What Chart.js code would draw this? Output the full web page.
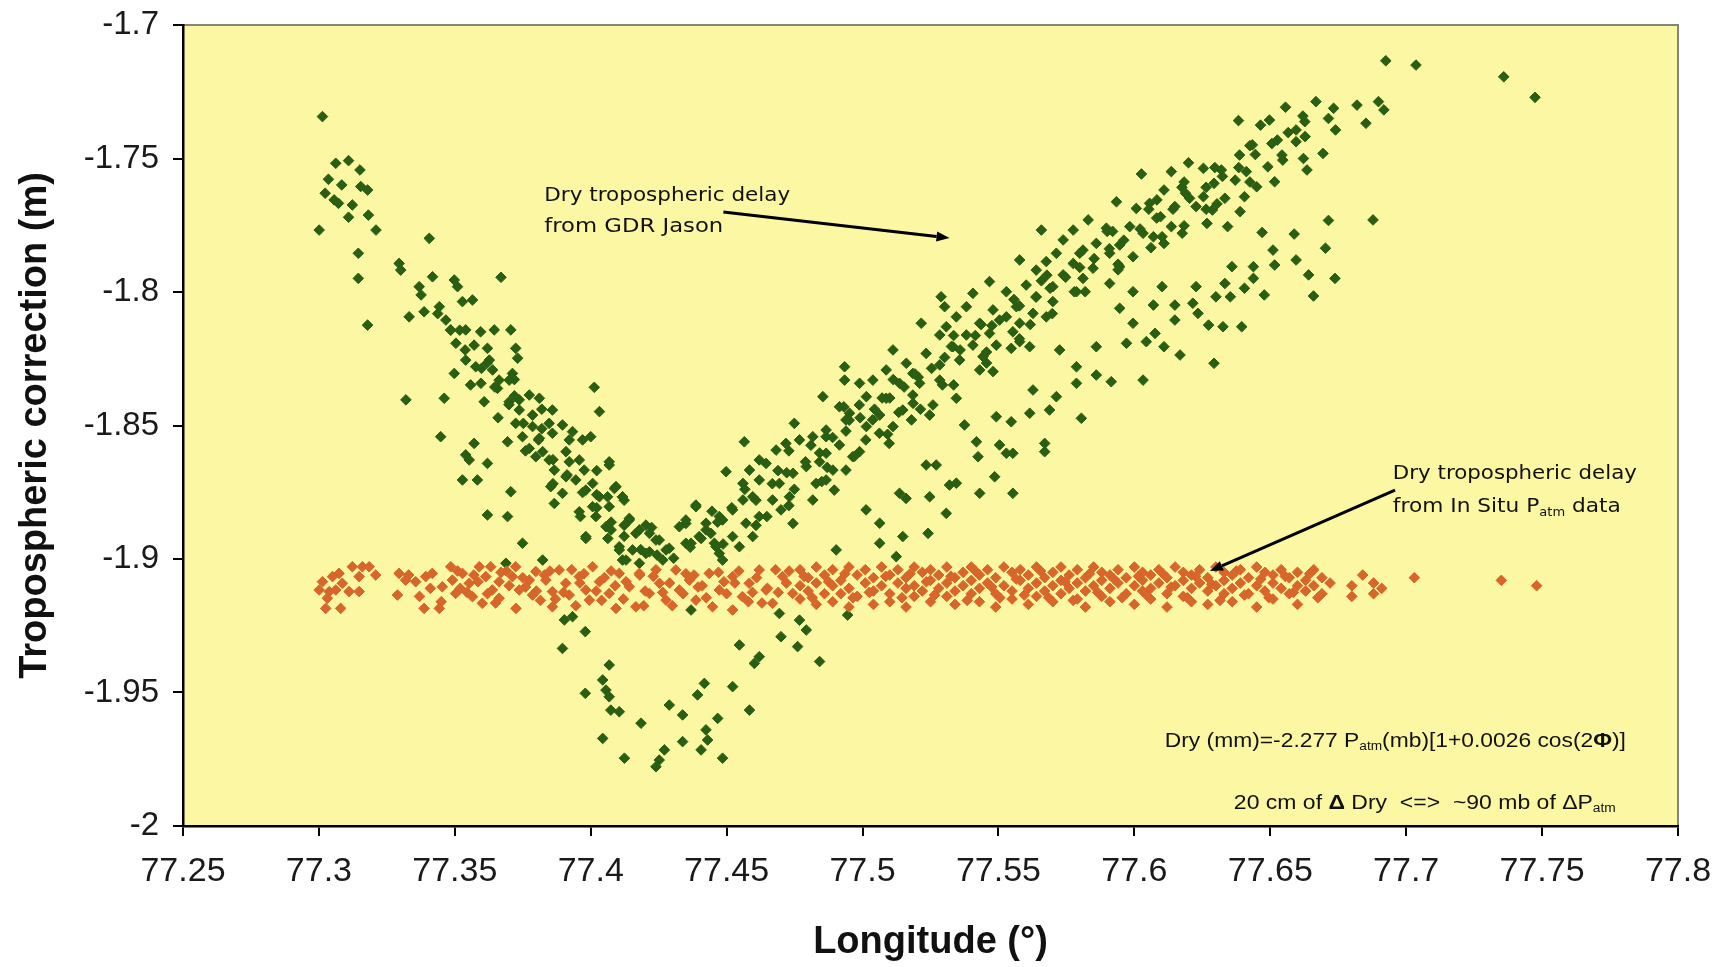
<!DOCTYPE html>
<html>
<head>
<meta charset="utf-8">
<script src="https://cdn.jsdelivr.net/npm/chart.js@4/dist/chart.umd.min.js"></script>
<style>
  html, body { margin: 0; padding: 0; background: #fff; }
  #wrap { width: 1720px; height: 967px; }
</style>
</head>
<body>
<div id="wrap"><canvas id="tropoChart" width="1720" height="967"></canvas></div>
<script>
// axis ticks
var lonTicks = [77.25, 77.3, 77.35, 77.4, 77.45, 77.5, 77.55, 77.6, 77.65, 77.7, 77.75, 77.8];
var dryTicks = [-2, -1.95, -1.9, -1.85, -1.8, -1.75, -1.7];

// dry tropospheric delay from GDR Jason  [longitude, correction (m)]
var jasonPts = [
  [77.3013,-1.7343],[77.3062,-1.7518],[77.3109,-1.7508],[77.3151,-1.7543],[77.3035,-1.7578],[77.3084,-1.7599],[77.3154,-1.7605],[77.3179,-1.7618],
  [77.3023,-1.7630],[77.3056,-1.7655],[77.3072,-1.7668],[77.3123,-1.7674],[77.3109,-1.7720],[77.3182,-1.7712],[77.3001,-1.7768],[77.3210,-1.7768],
  [77.3406,-1.7799],[77.3145,-1.7855],[77.3295,-1.7893],[77.3301,-1.7918],[77.3145,-1.7949],[77.3670,-1.7945],[77.3369,-1.7980],[77.3418,-1.7943],
  [77.3498,-1.7955],[77.3510,-1.7980],[77.3332,-1.8093],[77.3387,-1.8074],[77.3443,-1.8055],[77.3528,-1.8036],[77.3565,-1.8030],[77.3179,-1.8124],
  [77.3467,-1.8105],[77.3485,-1.8142],[77.3540,-1.8142],[77.3595,-1.8149],[77.3645,-1.8142],[77.3706,-1.8142],[77.3504,-1.8192],[77.3571,-1.8199],
  [77.3620,-1.8211],[77.3724,-1.8211],[77.3540,-1.8255],[77.3627,-1.8255],[77.3731,-1.8248],[77.3577,-1.8280],[77.3639,-1.8292],[77.3712,-1.8305],
  [77.3498,-1.8305],[77.3663,-1.8330],[77.3596,-1.8342],[77.3700,-1.8330],[77.3657,-1.8361],[77.4013,-1.8357],[77.3320,-1.8404],[77.3461,-1.8398],
  [77.3608,-1.8411],[77.3700,-1.8411],[77.3737,-1.8404],[77.3774,-1.8386],[77.3811,-1.8398],[77.3737,-1.8442],[77.3786,-1.8461],[77.3859,-1.8442],
  [77.4032,-1.8448],[77.3724,-1.8492],[77.3786,-1.8504],[77.3847,-1.8492],[77.3896,-1.8498],[77.3749,-1.8542],[77.3811,-1.8548],[77.3859,-1.8529],
  [77.3933,-1.8523],[77.3970,-1.8554],[77.4000,-1.8542],[77.3448,-1.8542],[77.3571,-1.8567],[77.3694,-1.8561],[77.3774,-1.8586],[77.3823,-1.8598],
  [77.3909,-1.8598],[77.3540,-1.8610],[77.3798,-1.8617],[77.3847,-1.8629],[77.3553,-1.8629],[77.3620,-1.8642],[77.3958,-1.8629],[77.4068,-1.8648],
  [77.3866,-1.8667],[77.3976,-1.8667],[77.3909,-1.8692],[77.3528,-1.8704],[77.3583,-1.8704],[77.3945,-1.8704],[77.4007,-1.8717],[77.3853,-1.8729],
  [77.3896,-1.8754],[77.3982,-1.8742],[77.4087,-1.8736],[77.3706,-1.8748],[77.4032,-1.8767],[77.4117,-1.8767],[77.3866,-1.8792],[77.3958,-1.8823],
  [77.4007,-1.8804],[77.4068,-1.8804],[77.3620,-1.8835],[77.3694,-1.8841],[77.4019,-1.8841],[77.4142,-1.8854],[77.4203,-1.8873],[77.4387,-1.8798],
  [77.4075,-1.8891],[77.3982,-1.8923],[77.4166,-1.8904],[77.4252,-1.8929],[77.4350,-1.8867],[77.4424,-1.8891],[77.3749,-1.8941],[77.4105,-1.8954],
  [77.4154,-1.8966],[77.4216,-1.8973],[77.4289,-1.8960],[77.4369,-1.8941],[77.4455,-1.8941],[77.4117,-1.9004],[77.4179,-1.9016],[77.4265,-1.9004],
  [77.3823,-1.9004],[77.3688,-1.9016],
  [77.3376,-1.8011],[77.3437,-1.8081],[77.3485,-1.8143],[77.3538,-1.8217],[77.3598,-1.8286],[77.3647,-1.8356],[77.3699,-1.8422],[77.3752,-1.8492],
  [77.3808,-1.8554],[77.3861,-1.8628],[77.3913,-1.8685],[77.3970,-1.8751],[77.4022,-1.8808],[77.4075,-1.8862],[77.4123,-1.8915],[77.4184,-1.8965],
  [77.4244,-1.8985],[77.4305,-1.8997],[77.4366,-1.8956],
  [77.3518,-1.8143],[77.3619,-1.8266],[77.3719,-1.8389],[77.3820,-1.8512],[77.3921,-1.8636],[77.4022,-1.8759],[77.4123,-1.8874],
  [77.3719,-1.8328],[77.3820,-1.8439],[77.3921,-1.8554],[77.4022,-1.8669],[77.4123,-1.8780],[77.4224,-1.8882],
  [77.3558,-1.8348],[77.3659,-1.8471],[77.3760,-1.8595],[77.3861,-1.8718],[77.3962,-1.8841],[77.4063,-1.8923],
  [77.3903,-1.9228],[77.3933,-1.9216],[77.3980,-1.9272],[77.3896,-1.9335],[77.4068,-1.9397],[77.4044,-1.9453],[77.3980,-1.9503],[77.4056,-1.9491],
  [77.4068,-1.9516],[77.4074,-1.9566],[77.4105,-1.9572],[77.4185,-1.9615],[77.4044,-1.9672],[77.4124,-1.9746],[77.4240,-1.9778],[77.4252,-1.9753],
  [77.4271,-1.9715],[77.4289,-1.9547],[77.4338,-1.9584],[77.4338,-1.9684],[77.4393,-1.9509],[77.4418,-1.9466],[77.4424,-1.9640],[77.4430,-1.9678],
  [77.4406,-1.9715],[77.4467,-1.9597],[77.4485,-1.9746],[77.4522,-1.9478],[77.4584,-1.9566],[77.4547,-1.9322],[77.4602,-1.9391],[77.4620,-1.9366],
  [77.4700,-1.9291],[77.4694,-1.9204],[77.4761,-1.9328],[77.4768,-1.9229],[77.4793,-1.9266],[77.4842,-1.9384],[77.4945,-1.9210],[77.4369,-1.9191],
  [77.4565,-1.8561],[77.4749,-1.8492],[77.4498,-1.8673],[77.4584,-1.8667],[77.4560,-1.8717],[77.4620,-1.8704],[77.4645,-1.8642],[77.4682,-1.8592],
  [77.4718,-1.8567],[77.4768,-1.8554],[77.4817,-1.8542],[77.4866,-1.8517],[77.4915,-1.8430],[77.4952,-1.8454],[77.4988,-1.8423],[77.5037,-1.8479],
  [77.5062,-1.8529],[77.5098,-1.8567],[77.5180,-1.8479],[77.4964,-1.8617],[77.4939,-1.8667],[77.4866,-1.8604],[77.4842,-1.8636],[77.4793,-1.8654],
  [77.4744,-1.8679],[77.4866,-1.8704],[77.4896,-1.8742],[77.4817,-1.8779],[77.4694,-1.8717],[77.4669,-1.8779],[77.4731,-1.8767],[77.4700,-1.8816],
  [77.4744,-1.8867],[77.4560,-1.8779],[77.4596,-1.8767],[77.4620,-1.8841],[77.4596,-1.8916],[77.4522,-1.8816],[77.4485,-1.8854],[77.4522,-1.8916],
  [77.4461,-1.8954],[77.4485,-1.9004],[77.4387,-1.8804],[77.4350,-1.8854],[77.4326,-1.8879],[77.4424,-1.8866],[77.4399,-1.8916],[77.4442,-1.8904],
  [77.4350,-1.8941],[77.4277,-1.8966],[77.4240,-1.8929],[77.4216,-1.8904],[77.4179,-1.8891],[77.4105,-1.8966],[77.4130,-1.9004],[77.4203,-1.8979],
  [77.4068,-1.8636],[77.3982,-1.8916],[77.4093,-1.8729],[77.4117,-1.8767],[77.4062,-1.8767],[77.4142,-1.8848],[77.4056,-1.8879],[77.5234,-1.8648],
  [77.5247,-1.8767],[77.5136,-1.8754],[77.5160,-1.8773],[77.5013,-1.8816],[77.5063,-1.8866],[77.5148,-1.8916],[77.5241,-1.8904],[77.5063,-1.8941],
  [77.4903,-1.8966],[77.5124,-1.8991],[77.5186,-1.8417],
  [77.6026,-1.7558],[77.6056,-1.7668],[77.6007,-1.7687],[77.5934,-1.7662],[77.5830,-1.7730],[77.5897,-1.7761],[77.5983,-1.7755],[77.6032,-1.7780],
  [77.5775,-1.7768],[77.5658,-1.7768],[77.5738,-1.7805],[77.5860,-1.7818],[77.5946,-1.7824],[77.5811,-1.7843],[77.5713,-1.7855],[77.5909,-1.7855],
  [77.5995,-1.7868],[77.5578,-1.7880],[77.5676,-1.7886],[77.5775,-1.7893],[77.5848,-1.7911],[77.5946,-1.7905],[77.5639,-1.7918],[77.5738,-1.7936],
  [77.5811,-1.7949],[77.5909,-1.7968],[77.5700,-1.7980],[77.5602,-1.7974],[77.5467,-1.7961],[77.5787,-1.7999],[77.5639,-1.8018],[77.5529,-1.7999],
  [77.5406,-1.8005],[77.5289,-1.8018],[77.5700,-1.8036],[77.5566,-1.8055],[77.5627,-1.8080],[77.5480,-1.8067],[77.5382,-1.8055],[77.5302,-1.8055],
  [77.5676,-1.8093],[77.5578,-1.8117],[77.5504,-1.8105],[77.5431,-1.8117],[77.5345,-1.8093],[77.5216,-1.8117],[77.5553,-1.8149],[77.5467,-1.8155],
  [77.5382,-1.8161],[77.5308,-1.8130],[77.5284,-1.8161],[77.5578,-1.8186],[77.5492,-1.8199],[77.5406,-1.8199],[77.5333,-1.8205],[77.5112,-1.8217],
  [77.5234,-1.8230],[77.5443,-1.8242],[77.5547,-1.8211],[77.5615,-1.8205],[77.5357,-1.8255],[77.5161,-1.8267],[77.5284,-1.8273],[77.5087,-1.8292],
  [77.5185,-1.8305],[77.5431,-1.8292],[77.5480,-1.8298],[77.5284,-1.8330],[77.5210,-1.8342],[77.5136,-1.8342],[77.5038,-1.8330],[77.4989,-1.8342],
  [77.4934,-1.8280],[77.4934,-1.8330],[77.5345,-1.8398],[77.5259,-1.8423],[77.5185,-1.8386],[77.5087,-1.8398],[77.5014,-1.8392],[77.4854,-1.8392],
  [77.5063,-1.8461],[77.5148,-1.8442],[77.5247,-1.8461],[77.4939,-1.8479],[77.5014,-1.8504],[77.5112,-1.8504],[77.4866,-1.8542],[77.4915,-1.8573],
  [77.4989,-1.8598],[77.4620,-1.8629],[77.4891,-1.8667],[77.4829,-1.8717],[77.4473,-1.8841],[77.4571,-1.8866],[77.4547,-1.8954],[77.4473,-1.8979],
  [77.4406,-1.8923],[77.4467,-1.8862],[77.4519,-1.8808],[77.4608,-1.8780],[77.4668,-1.8718],[77.4721,-1.8677],[77.4790,-1.8636],[77.4842,-1.8603],
  [77.4890,-1.8545],[77.4939,-1.8521],[77.4991,-1.8471],[77.5044,-1.8439],[77.5100,-1.8397],[77.5153,-1.8356],[77.5205,-1.8319],[77.5254,-1.8286],
  [77.5302,-1.8245],[77.5359,-1.8217],[77.5415,-1.8163],[77.5476,-1.8126],[77.5529,-1.8093],[77.5577,-1.8052],[77.5638,-1.8019],[77.5690,-1.7986],
  [77.5747,-1.7945],[77.5799,-1.7908],[77.5852,-1.7875],[77.5908,-1.7838],[77.5961,-1.7806],[77.6021,-1.7764],[77.6082,-1.7723],[77.6142,-1.7690],
  [77.6203,-1.7649],[77.6264,-1.7608],[77.6324,-1.7567],[77.6384,-1.7534],[77.6445,-1.7485],[77.6506,-1.7444],[77.6566,-1.7403],[77.6627,-1.7362],
  [77.4648,-1.8841],[77.4749,-1.8739],[77.4870,-1.8657],[77.5012,-1.8554],[77.5133,-1.8451],[77.5294,-1.8348],[77.5456,-1.8225],[77.5617,-1.8122],
  [77.5779,-1.7999],[77.5940,-1.7896],[77.6102,-1.7793],[77.6264,-1.7690],[77.4729,-1.8595],[77.4931,-1.8430],[77.5113,-1.8328],[77.5335,-1.8163],
  [77.5658,-1.7958],[77.5900,-1.7773],[77.6183,-1.7588],
  [77.4446,-1.8821],[77.4567,-1.8739],[77.4689,-1.8669],[77.4810,-1.8574],[77.4951,-1.8480],[77.5072,-1.8397],[77.5193,-1.8307],[77.5327,-1.8204],
  [77.5436,-1.8122],[77.5557,-1.8028],[77.5678,-1.7937],[77.5799,-1.7855],[77.5920,-1.7773],[77.6053,-1.7690],[77.6175,-1.7608],[77.6296,-1.7534],
  [77.6425,-1.7452],
  [77.4487,-1.8944],[77.4608,-1.8874],[77.4729,-1.8800],[77.4850,-1.8710],[77.4971,-1.8615],[77.5092,-1.8533],[77.5213,-1.8439],[77.5335,-1.8348],
  [77.5456,-1.8266],[77.5577,-1.8175],[77.5698,-1.8081],[77.5819,-1.7999],[77.5940,-1.7917],[77.6061,-1.7834],[77.6183,-1.7752],[77.6304,-1.7670],
  [77.6425,-1.7588],[77.6546,-1.7506],
  [77.5271,-1.8648],[77.5320,-1.8723],[77.5345,-1.8716],[77.5308,-1.8829],[77.5431,-1.8754],[77.5553,-1.8754],[77.5486,-1.8692],[77.5425,-1.8617],
  [77.5419,-1.8561],[77.5504,-1.8573],[77.5529,-1.8604],[77.5553,-1.8604],[77.5375,-1.8498],[77.5492,-1.8467],[77.5547,-1.8486],[77.5615,-1.8454],
  [77.5670,-1.8567],[77.5670,-1.8598],[77.5688,-1.8442],[77.5713,-1.8392],[77.5627,-1.8367],[77.5805,-1.8473],[77.5787,-1.8280],[77.5787,-1.8342],
  [77.5725,-1.8217],[77.5860,-1.8311],[77.5915,-1.8336],[77.5860,-1.8205],[77.5971,-1.8192],[77.6032,-1.8330],[77.6044,-1.8186],[77.5995,-1.8117],
  [77.5946,-1.8061],[77.5995,-1.7999],
  [77.6925,-1.7134],[77.7036,-1.7150],[77.7359,-1.7194],[77.7474,-1.7271],[77.6898,-1.7287],[77.6918,-1.7318],[77.6819,-1.7300],[77.6852,-1.7368],
  [77.6668,-1.7287],[77.6733,-1.7312],[77.6714,-1.7350],[77.6740,-1.7393],[77.6556,-1.7308],[77.6620,-1.7341],[77.6497,-1.7356],[77.6464,-1.7375],
  [77.6383,-1.7358],[77.6595,-1.7393],[77.6628,-1.7418],[77.6526,-1.7431],[77.6434,-1.7449],[77.6387,-1.7487],[77.6543,-1.7487],[77.6595,-1.7437],
  [77.6694,-1.7481],[77.6622,-1.7500],[77.6199,-1.7516],[77.6254,-1.7537],[77.6136,-1.7549],[77.6320,-1.7543],[77.6412,-1.7549],[77.6491,-1.7531],
  [77.6635,-1.7543],[77.6293,-1.7593],[77.6371,-1.7581],[77.6450,-1.7606],[77.6516,-1.7587],[77.6109,-1.7618],[77.6188,-1.7630],[77.6254,-1.7643],
  [77.6333,-1.7649],[77.6405,-1.7643],[77.6083,-1.7655],[77.6149,-1.7680],[77.6227,-1.7680],[77.6287,-1.7693],[77.6389,-1.7699],[77.6096,-1.7718],
  [77.6136,-1.7755],[77.6176,-1.7780],[77.6070,-1.7793],[77.6109,-1.7818],[77.6267,-1.7743],[77.6343,-1.7755],[77.6714,-1.7732],[77.6878,-1.7730],
  [77.6470,-1.7777],[77.6588,-1.7783],[77.6703,-1.7836],[77.6510,-1.7843],[77.6595,-1.7880],[77.6359,-1.7905],[77.6438,-1.7905],[77.6516,-1.7899],
  [77.6641,-1.7936],[77.6738,-1.7949],[77.6438,-1.7949],[77.6333,-1.7968],[77.6405,-1.7986],[77.6478,-1.8011],[77.6227,-1.7980],[77.6102,-1.7980],
  [77.6300,-1.8018],[77.6353,-1.8018],[77.6659,-1.8015],[77.6070,-1.8049],[77.6149,-1.8049],[77.6215,-1.8042],[77.6234,-1.8080],[77.6149,-1.8105],
  [77.6273,-1.8124],[77.6326,-1.8130],[77.6395,-1.8130],[77.6076,-1.8155],[77.6109,-1.8205],[77.6168,-1.8236],[77.6293,-1.8267]
];

// dry tropospheric delay from in situ Patm data  [longitude, correction (m)]
var insituPts = [
  [77.3013,-1.9085],[77.3050,-1.9066],[77.3074,-1.9054],[77.3123,-1.9029],[77.3160,-1.9029],[77.3185,-1.9029],[77.3209,-1.9060],[77.3148,-1.9066],
  [77.3001,-1.9116],[77.3038,-1.9122],[77.3062,-1.9116],[77.3111,-1.9122],[77.3148,-1.9122],[77.3031,-1.9147],[77.3025,-1.9185],[77.3080,-1.9185],
  [77.3086,-1.9091],[77.3295,-1.9054],[77.3319,-1.9079],[77.3356,-1.9085],[77.3393,-1.9066],[77.3417,-1.9054],[77.3289,-1.9135],[77.3387,-1.9185],
  [77.3443,-1.9185],[77.3454,-1.9104],[77.3485,-1.9029],[77.3491,-1.9079],[77.3503,-1.9129],[77.3528,-1.9054],[77.3553,-1.9091],[77.3565,-1.9141],
  [77.3590,-1.9029],[77.3614,-1.9066],[77.3601,-1.9166],[77.3638,-1.9116],[77.3663,-1.9085],[77.3663,-1.9147],[77.3632,-1.9029],[77.3712,-1.9066],
  [77.3724,-1.9029],[77.3737,-1.9116],[77.3725,-1.9185],[77.3774,-1.9079],[77.3786,-1.9135],[77.3798,-1.9047],[77.3835,-1.9079],[77.3859,-1.9122],
  [77.3859,-1.9179],[77.3884,-1.9041],[77.3908,-1.9091],[77.3921,-1.9135],[77.3958,-1.9066],[77.3982,-1.9116],[77.4007,-1.9029],[77.3995,-1.9154],
  [77.4032,-1.9085],[77.4068,-1.9129],[77.4093,-1.9185],[77.4105,-1.9054],[77.4142,-1.9104],[77.4166,-1.9179],[77.4179,-1.9054],[77.4216,-1.9129],
  [77.4253,-1.9091],[77.4277,-1.9154],[77.4313,-1.9041],[77.4326,-1.9116],[77.4363,-1.9079],[77.4387,-1.9154],[77.4436,-1.9054],[77.4448,-1.9179],
  [77.4473,-1.9116],[77.4522,-1.9191],[77.4522,-1.9066],[77.4558,-1.9141],[77.4583,-1.9091],[77.4620,-1.9041],[77.4645,-1.9116],[77.4669,-1.9166],
  [77.4706,-1.9066],[77.4743,-1.9129],
  [77.3520,-1.9110],[77.3570,-1.9060],[77.3620,-1.9130],[77.3670,-1.9050],[77.3700,-1.9100],[77.3750,-1.9070],[77.3800,-1.9120],[77.3830,-1.9060],
  [77.3870,-1.9150],[77.3930,-1.9040],[77.3960,-1.9090],[77.4020,-1.9120],[77.4050,-1.9070],[77.4090,-1.9100],[77.4120,-1.9150],[77.4180,-1.9060],
  [77.4200,-1.9120],[77.4240,-1.9040],[77.4290,-1.9090],[77.4340,-1.9130],[77.4380,-1.9060],[77.4410,-1.9100],[77.4470,-1.9050],[77.4500,-1.9130],
  [77.4530,-1.9090],[77.4580,-1.9160],[77.4610,-1.9070],[77.4650,-1.9110],[77.4680,-1.9040],[77.4720,-1.9090],[77.3450,-1.9160],[77.3410,-1.9110],
  [77.3370,-1.9140],[77.3330,-1.9060],
  [77.3510,-1.9045],[77.3545,-1.9125],[77.3585,-1.9085],[77.3650,-1.9165],[77.3690,-1.9045],[77.3760,-1.9105],[77.3815,-1.9155],[77.3850,-1.9045],
  [77.3900,-1.9125],[77.3945,-1.9175],[77.3975,-1.9055],[77.4040,-1.9155],[77.4075,-1.9045],[77.4130,-1.9085],[77.4195,-1.9175],[77.4230,-1.9065],
  [77.4265,-1.9125],[77.4300,-1.9175],[77.4350,-1.9055],[77.4395,-1.9105],[77.4425,-1.9145],[77.4490,-1.9085],[77.4545,-1.9045],[77.4595,-1.9125],
  [77.4630,-1.9165],[77.4690,-1.9125],[77.4730,-1.9045],
  [77.477,-1.904],[77.477,-1.910],[77.477,-1.915],[77.480,-1.907],[77.480,-1.912],[77.483,-1.903],[77.483,-1.909],[77.483,-1.917],
  [77.486,-1.906],[77.486,-1.913],[77.489,-1.904],[77.489,-1.910],[77.489,-1.916],[77.492,-1.908],[77.492,-1.913],[77.495,-1.903],
  [77.495,-1.911],[77.495,-1.918],[77.498,-1.906],[77.498,-1.914],[77.501,-1.904],[77.501,-1.909],[77.504,-1.907],[77.504,-1.912],
  [77.504,-1.917],[77.507,-1.903],[77.507,-1.910],[77.510,-1.906],[77.510,-1.913],[77.510,-1.916],[77.513,-1.904],[77.513,-1.909],
  [77.516,-1.907],[77.516,-1.911],[77.516,-1.918],[77.519,-1.903],[77.519,-1.910],[77.519,-1.914],[77.522,-1.905],[77.522,-1.912],
  [77.525,-1.904],[77.525,-1.908],[77.525,-1.916],[77.528,-1.906],[77.528,-1.911],[77.531,-1.903],[77.531,-1.909],[77.531,-1.914],
  [77.534,-1.907],[77.534,-1.912],[77.534,-1.917],[77.537,-1.905],[77.537,-1.910],[77.540,-1.903],[77.540,-1.908],[77.540,-1.913],
  [77.543,-1.906],[77.543,-1.911],[77.543,-1.916],[77.546,-1.904],[77.546,-1.909],[77.549,-1.907],[77.549,-1.913],[77.549,-1.918],
  [77.552,-1.903],[77.552,-1.910],[77.555,-1.905],[77.555,-1.912],[77.555,-1.915],[77.558,-1.904],[77.558,-1.908],[77.561,-1.906],
  [77.561,-1.911],[77.561,-1.917],[77.564,-1.903],[77.564,-1.909],[77.564,-1.914],[77.567,-1.907],[77.567,-1.912],[77.570,-1.905],
  [77.570,-1.910],[77.570,-1.916],[77.573,-1.903],[77.573,-1.908],[77.573,-1.913],[77.576,-1.906],[77.576,-1.911],[77.579,-1.904],
  [77.579,-1.909],[77.579,-1.915],[77.582,-1.907],[77.582,-1.912],[77.582,-1.918],[77.585,-1.903],[77.585,-1.910],[77.588,-1.905],
  [77.588,-1.908],[77.588,-1.914],[77.591,-1.906],[77.591,-1.911],[77.591,-1.916],[77.594,-1.904],[77.594,-1.909],[77.597,-1.907],
  [77.597,-1.913],[77.600,-1.903],[77.600,-1.910],[77.600,-1.917],[77.603,-1.905],[77.603,-1.908],[77.603,-1.912],[77.606,-1.906],
  [77.606,-1.911],[77.606,-1.915],[77.609,-1.904],[77.609,-1.909],[77.612,-1.907],[77.612,-1.913],[77.612,-1.918],[77.615,-1.903],
  [77.615,-1.910],[77.618,-1.905],[77.618,-1.908],[77.618,-1.914],[77.621,-1.906],[77.621,-1.911],[77.621,-1.916],[77.624,-1.904],
  [77.624,-1.909],[77.627,-1.907],[77.627,-1.912],[77.627,-1.917],[77.630,-1.903],[77.630,-1.910],[77.633,-1.905],[77.633,-1.908],
  [77.633,-1.913],[77.636,-1.906],[77.636,-1.911],[77.636,-1.916],[77.639,-1.904],[77.639,-1.909],[77.642,-1.907],[77.642,-1.913],
  [77.645,-1.903],[77.645,-1.910],[77.645,-1.918],[77.648,-1.905],[77.648,-1.912],[77.651,-1.906],[77.651,-1.909],[77.651,-1.915],
  [77.654,-1.904],[77.654,-1.911],[77.657,-1.907],[77.657,-1.913],[77.660,-1.905],[77.660,-1.910],[77.660,-1.917],[77.663,-1.908],
  [77.663,-1.912],[77.666,-1.904],[77.666,-1.910],[77.669,-1.907],[77.669,-1.913],[77.672,-1.909],[77.680,-1.910],[77.680,-1.914],
  [77.684,-1.906],[77.688,-1.909],[77.688,-1.913],[77.691,-1.911],[77.703,-1.907],[77.735,-1.908],[77.748,-1.910],
  [77.4785,-1.9065],[77.4815,-1.9145],[77.4875,-1.9085],[77.4935,-1.9055],[77.4965,-1.9145],[77.5025,-1.9125],[77.5085,-1.9065],[77.5145,-1.9145],
  [77.5175,-1.9055],[77.5235,-1.9085],[77.5265,-1.9135],[77.5325,-1.9065],[77.5385,-1.9155],[77.5415,-1.9045],[77.5475,-1.9105],[77.5505,-1.9145],
  [77.5565,-1.9075],[77.5595,-1.9135],[77.5655,-1.9045],[77.5685,-1.9145],[77.5745,-1.9085],[77.5775,-1.9155],[77.5835,-1.9055],[77.5865,-1.9125],
  [77.5925,-1.9075],[77.5955,-1.9145],[77.6015,-1.9065],[77.6045,-1.9135],[77.6105,-1.9055],[77.6135,-1.9105],[77.6195,-1.9145],[77.6225,-1.9065],
  [77.6285,-1.9095],[77.6315,-1.9155],[77.6375,-1.9045],[77.6405,-1.9135],[77.6465,-1.9075],[77.6495,-1.9145],[77.6555,-1.9065],[77.6585,-1.9125],
  [77.6645,-1.9055],[77.6675,-1.9145]
];

// text notes and arrows, anchored in data units
var notes = [
  { lon: 77.3829, dry: -1.7640, width: 246, size: 20, family: "'DejaVu Sans', sans-serif", parts: [['Dry tropospheric delay']] },
  { lon: 77.3829, dry: -1.7757, width: 179, size: 20, family: "'DejaVu Sans', sans-serif", parts: [['from GDR Jason']] },
  { lon: 77.6951, dry: -1.8682, width: 244, size: 20, family: "'DejaVu Sans', sans-serif", parts: [['Dry tropospheric delay']] },
  { lon: 77.6951, dry: -1.8805, width: 228, size: 20, family: "'DejaVu Sans', sans-serif", parts: [['from In Situ P'], ['atm', 'sub'], [' data']] },
  { lon: 77.6112, dry: -1.9682, width: 461, size: 20, family: "'Liberation Sans', Arial, sans-serif",
    parts: [['Dry (mm)=-2.277 P'], ['atm', 'sub'], ['(mb)[1+0.0026 cos(2'], ['\u03A6', 'bold'], [')]']] },
  { lon: 77.6366, dry: -1.9914, width: 382, size: 20, family: "'Liberation Sans', Arial, sans-serif",
    parts: [['20 cm of '], ['\u0394', 'bold'], [' Dry  <=>  ~90 mb of '], ['\u0394P'], ['atm', 'sub']] }
];
var arrows = [
  { from: [77.4488, -1.7700], to: [77.5320, -1.7798] },
  { from: [77.6959, -1.8742], to: [77.6278, -1.9045] }
];

function toXY(list) {
  return list.map(function (p) { return { x: p[0], y: p[1] }; });
}

function fmt(v) {
  return String(parseFloat(v.toFixed(2)));
}

function drawParts(ctx, note, x, y) {
  var total = 0;
  var items = note.parts.map(function (p) {
    var kind = p[1] || '';
    var size = kind === 'sub' ? Math.round(note.size * 0.6) : note.size;
    var font = (kind === 'bold' ? 'bold ' : '') + size + 'px ' + note.family;
    ctx.font = font;
    var w = ctx.measureText(p[0]).width;
    total += w;
    return { text: p[0], font: font, w: w, dy: kind === 'sub' ? note.size * 0.28 : 0 };
  });
  ctx.save();
  ctx.translate(x, y);
  ctx.scale(note.width / total, 1);
  ctx.fillStyle = '#111';
  ctx.textBaseline = 'middle';
  ctx.textAlign = 'left';
  var cx = 0;
  items.forEach(function (it) {
    ctx.font = it.font;
    ctx.fillText(it.text, cx, it.dy);
    cx += it.w;
  });
  ctx.restore();
}

function drawArrow(ctx, x1, y1, x2, y2) {
  var ang = Math.atan2(y2 - y1, x2 - x1);
  var head = 13, half = 5;
  ctx.save();
  ctx.strokeStyle = '#000';
  ctx.fillStyle = '#000';
  ctx.lineWidth = 3;
  ctx.beginPath();
  ctx.moveTo(x1, y1);
  ctx.lineTo(x2 - head * Math.cos(ang), y2 - head * Math.sin(ang));
  ctx.stroke();
  ctx.beginPath();
  ctx.moveTo(x2, y2);
  ctx.lineTo(x2 - head * Math.cos(ang) + half * Math.sin(ang), y2 - head * Math.sin(ang) - half * Math.cos(ang));
  ctx.lineTo(x2 - head * Math.cos(ang) - half * Math.sin(ang), y2 - head * Math.sin(ang) + half * Math.cos(ang));
  ctx.closePath();
  ctx.fill();
  ctx.restore();
}

var plotDecor = {
  id: 'plotDecor',
  beforeDraw: function (chart) {
    var ctx = chart.ctx, a = chart.chartArea;
    ctx.save();
    ctx.fillStyle = '#FCF7A2';
    ctx.fillRect(a.left, a.top, a.right - a.left, a.bottom - a.top);
    ctx.strokeStyle = '#85857a';
    ctx.lineWidth = 2;
    ctx.beginPath();
    ctx.moveTo(a.left, a.top);
    ctx.lineTo(a.right, a.top);
    ctx.lineTo(a.right, a.bottom);
    ctx.stroke();
    ctx.restore();
  },
  afterDatasetsDraw: function (chart) {
    var ctx = chart.ctx, xs = chart.scales.x, ys = chart.scales.y;
    arrows.forEach(function (ar) {
      drawArrow(ctx, xs.getPixelForValue(ar.from[0]), ys.getPixelForValue(ar.from[1]),
        xs.getPixelForValue(ar.to[0]), ys.getPixelForValue(ar.to[1]));
    });
    notes.forEach(function (n) {
      drawParts(ctx, n, xs.getPixelForValue(n.lon), ys.getPixelForValue(n.dry));
    });
  }
};

function init() {
  var ctx = document.getElementById('tropoChart');
  new Chart(ctx, {
    type: 'scatter',
    data: {
      datasets: [
        {
          label: 'Dry tropospheric delay from In Situ Patm data',
          data: toXY(insituPts),
          pointStyle: 'rectRot',
          pointRadius: 5.3,
          pointBorderWidth: 1,
          backgroundColor: '#D8652A',
          borderColor: '#D8652A'
        },
        {
          label: 'Dry tropospheric delay from GDR Jason',
          data: toXY(jasonPts),
          pointStyle: 'rectRot',
          pointRadius: 5.3,
          pointBorderWidth: 1,
          backgroundColor: '#2A5E12',
          borderColor: '#2A5E12'
        }
      ]
    },
    options: {
      responsive: false,
      animation: false,
      devicePixelRatio: 1,
      layout: { padding: { top: 25, right: 42, left: 0, bottom: 0 } },
      plugins: { legend: { display: false }, tooltip: { enabled: false } },
      scales: {
        x: {
          type: 'linear',
          min: 77.25,
          max: 77.8,
          afterBuildTicks: function (scale) { scale.ticks = lonTicks.map(function (v) { return { value: v }; }); },
          afterFit: function (scale) {
            scale.height = 141;
            scale.paddingLeft = 0;
            scale.paddingRight = 0;
          },
          border: { display: true, color: '#000', width: 2.5 },
          grid: { drawOnChartArea: false, drawTicks: true, tickLength: 10, color: '#000', lineWidth: 2 },
          ticks: {
            padding: 15,
            color: '#1a1a1a',
            maxRotation: 0,
            autoSkip: false,
            font: { family: "'Liberation Sans', Arial, sans-serif", size: 34 },
            callback: function (v) { return fmt(v); }
          },
          title: {
            display: true,
            text: 'Longitude (\u00B0)',
            color: '#111',
            padding: { top: 0, bottom: 2 },
            font: { family: "'Liberation Sans', Arial, sans-serif", size: 38, weight: 'bold' }
          }
        },
        y: {
          type: 'linear',
          min: -2,
          max: -1.7,
          afterBuildTicks: function (scale) { scale.ticks = dryTicks.map(function (v) { return { value: v }; }); },
          afterFit: function (scale) {
            scale.width = 183;
            scale.paddingTop = 0;
            scale.paddingBottom = 0;
          },
          border: { display: true, color: '#000', width: 2.5 },
          grid: { drawOnChartArea: false, drawTicks: true, tickLength: 10, color: '#000', lineWidth: 2 },
          ticks: {
            padding: 14,
            color: '#1a1a1a',
            autoSkip: false,
            font: { family: "'Liberation Sans', Arial, sans-serif", size: 33 },
            callback: function (v) { return fmt(v); }
          },
          title: {
            display: true,
            text: 'Tropospheric correction (m)',
            color: '#111',
            padding: { top: 13, bottom: 0 },
            font: { family: "'Liberation Sans', Arial, sans-serif", size: 38, weight: 'bold' }
          }
        }
      }
    },
    plugins: [plotDecor]
  });
}

document.addEventListener('DOMContentLoaded', init);
</script>
</body>
</html>
